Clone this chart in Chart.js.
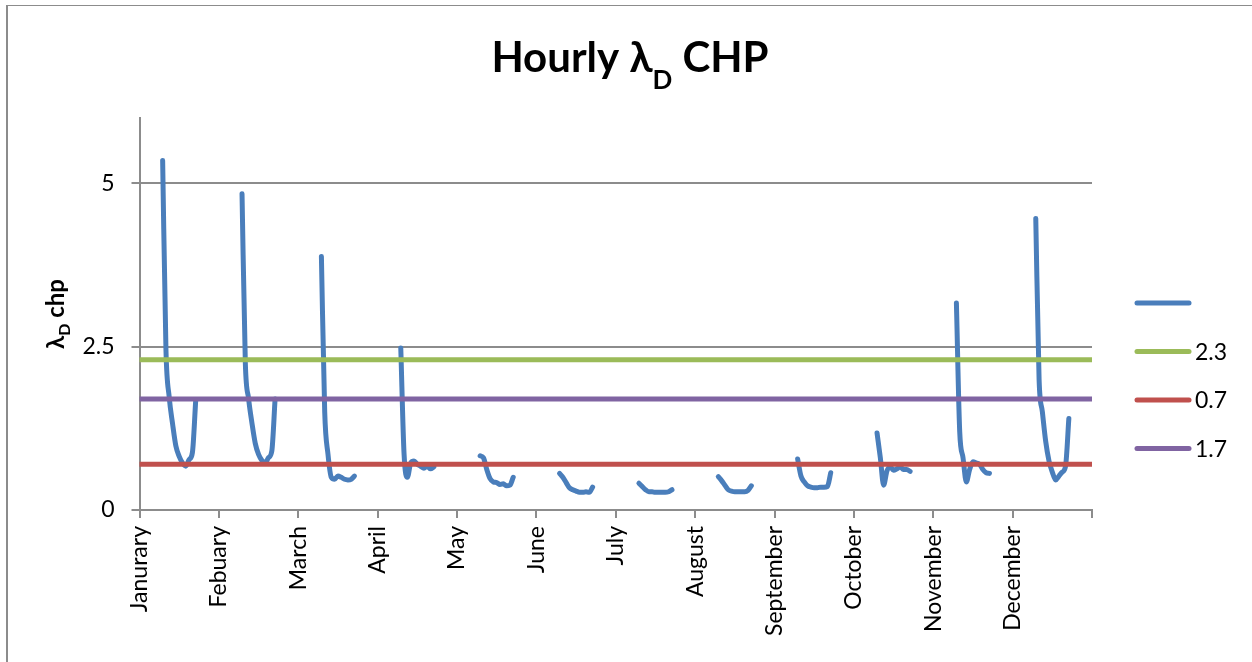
<!DOCTYPE html>
<html>
<head>
<meta charset="utf-8">
<script src="https://cdn.jsdelivr.net/npm/chart.js@4/dist/chart.umd.min.js"></script>
<style>
  html, body { margin: 0; padding: 0; background: #fff; }
  #wrap { position: relative; width: 1252px; height: 662px; overflow: hidden; }
  #frame { position: absolute; left: 6px; top: 5px; width: 1300px; height: 700px;
           border-left: 2px solid #8c8c8c; border-top: 1px solid #8c8c8c; }
  canvas { position: absolute; left: 0; top: 0; }
</style>
</head>
<body>
<div id="wrap">
  <div id="frame"></div>
  <canvas id="chart" width="1252" height="662"></canvas>
</div>
<script>
// month labels (spelling as in the original)
const months = ['Janurary', 'Febuary', 'March', 'April', 'May', 'June',
  'July', 'August', 'September', 'October', 'November', 'December'];
const hoursPerMonth = 24;
const hours = [7, 8, 9, 10, 11, 12, 13, 14, 15, 16, 17];

// hourly lambda_D values of the representative day, per month
const jan = [5.35, 2.45, 1.72, 1.32, 0.98, 0.82, 0.72, 0.67, 0.77, 0.88, 1.68];
const feb = [4.84, 2.25, 1.70, 1.33, 1.02, 0.85, 0.76, 0.72, 0.80, 0.90, 1.70];
const mar = [3.88, 1.50, 0.85, 0.50, 0.47, 0.52, 0.50, 0.47, 0.46, 0.47, 0.52];
const apr = [2.48, 0.85, 0.50, 0.72, 0.75, 0.70, 0.67, 0.64, 0.67, 0.63, 0.66];
const may = [0.83, 0.80, 0.62, 0.48, 0.43, 0.42, 0.39, 0.40, 0.37, 0.38, 0.50];
const jun = [0.56, 0.50, 0.42, 0.34, 0.31, 0.29, 0.27, 0.27, 0.28, 0.27, 0.35];
const jul = [0.41, 0.36, 0.31, 0.28, 0.28, 0.27, 0.27, 0.27, 0.27, 0.28, 0.31];
const aug = [0.51, 0.45, 0.38, 0.31, 0.29, 0.28, 0.28, 0.28, 0.28, 0.30, 0.37];
const sep = [0.78, 0.52, 0.43, 0.37, 0.35, 0.34, 0.34, 0.35, 0.35, 0.36, 0.57];
const oct = [1.18, 0.80, 0.38, 0.60, 0.66, 0.61, 0.63, 0.66, 0.62, 0.62, 0.59];
const nov = [3.17, 1.20, 0.80, 0.43, 0.62, 0.74, 0.72, 0.70, 0.62, 0.57, 0.56];
const dec = [4.46, 2.00, 1.50, 1.05, 0.75, 0.58, 0.46, 0.52, 0.58, 0.67, 1.40];
const monthly = [jan, feb, mar, apr, may, jun, jul, aug, sep, oct, nov, dec];

// reference levels
const levels = [2.3, 0.7, 1.7];
const levelColors = ['#9bbb59', '#c0504d', '#8064a2'];

const yTicks = [0, 2.5, 5];

const FONT = 'Lato, "Open Sans", sans-serif';

// blue series: one short curve per month, gaps in between
const hourly = [];
monthly.forEach((vals, m) => {
  vals.forEach((v, i) => hourly.push({ x: m * hoursPerMonth + hours[i], y: v }));
  hourly.push({ x: m * hoursPerMonth + hours[hours.length - 1] + 1, y: null });
});

const xMax = months.length * hoursPerMonth;

const datasets = [{
  label: '',
  data: hourly,
  borderColor: '#4a7ebb',
  borderWidth: 5,
  pointRadius: 0,
  cubicInterpolationMode: 'monotone',
  spanGaps: false,
  borderCapStyle: 'round',
  borderJoinStyle: 'round',
  order: 1
}];
levels.forEach((lv, i) => {
  datasets.push({
    label: String(lv),
    data: [{ x: 0, y: lv }, { x: xMax, y: lv }],
    borderColor: levelColors[i],
    borderWidth: 5,
    pointRadius: 0,
    borderCapStyle: 'round',
    order: 0
  });
});

// title, y-axis title (with subscripts) and legend
const decor = {
  id: 'decor',
  afterDraw(chart) {
    const ctx = chart.ctx;
    const area = chart.chartArea;
    ctx.save();
    ctx.fillStyle = '#000';
    ctx.textBaseline = 'alphabetic';

    // title
    const big = 'bold 42px ' + FONT, small = 'bold 26px ' + FONT;
    const parts = [['Hourly λ', big, 0], ['D', small, 17], [' CHP', big, 0]];
    let w = 0;
    parts.forEach(p => { ctx.font = p[1]; w += ctx.measureText(p[0]).width; });
    let x = 630 - w / 2;
    ctx.textAlign = 'left';
    parts.forEach(p => { ctx.font = p[1]; ctx.fillText(p[0], x, 72 + p[2]); x += ctx.measureText(p[0]).width; });

    // y axis title
    const yb = 'bold 24px ' + FONT, ys = 'bold 16px ' + FONT;
    const yparts = [['λ', yb, 0], ['D', ys, 6], [' chp', yb, 0]];
    let yw = 0;
    yparts.forEach(p => { ctx.font = p[1]; yw += ctx.measureText(p[0]).width; });
    ctx.translate(64, (area.top + area.bottom) / 2);
    ctx.rotate(-Math.PI / 2);
    let tx = -yw / 2;
    yparts.forEach(p => { ctx.font = p[1]; ctx.fillText(p[0], tx, p[2]); tx += ctx.measureText(p[0]).width; });
    ctx.setTransform(1, 0, 0, 1, 0, 0);

    // legend
    ctx.font = '23px ' + FONT;
    ctx.textBaseline = 'middle';
    chart.data.datasets.forEach((ds, i) => {
      const ly = 303 + i * 48.5;
      ctx.strokeStyle = ds.borderColor;
      ctx.lineWidth = 5;
      ctx.lineCap = 'round';
      ctx.beginPath();
      ctx.moveTo(1137, ly);
      ctx.lineTo(1189, ly);
      ctx.stroke();
      ctx.fillText(ds.label, 1195, ly + 1);
    });
    ctx.restore();
  }
};

new Chart(document.getElementById('chart'), {
  type: 'line',
  data: { datasets },
  options: {
    responsive: false,
    animation: false,
    layout: { padding: { top: 118, right: 160, left: 0, bottom: 0 } },
    plugins: { legend: { display: false }, title: { display: false }, tooltip: { enabled: false } },
    scales: {
      x: {
        type: 'linear',
        min: 0,
        max: xMax,
        afterFit: s => { s.height = 152; },
        afterBuildTicks: s => { s.ticks = months.map((m, i) => ({ value: i * hoursPerMonth })).concat([{ value: xMax }]); },
        ticks: {
          autoSkip: false,
          minRotation: 90,
          maxRotation: 90,
          padding: 8,
          color: '#000',
          font: { family: FONT, size: 23 },
          callback: v => months[v / hoursPerMonth] || ''
        },
        grid: { drawOnChartArea: false, tickLength: 8, color: '#8c8c8c', lineWidth: 2 },
        border: { color: '#8c8c8c', width: 2 }
      },
      y: {
        min: 0,
        max: 6,
        afterFit: s => { s.width = 139.5; },
        afterBuildTicks: s => { s.ticks = yTicks.map(v => ({ value: v })); },
        ticks: {
          padding: 17,
          color: '#000',
          font: { family: FONT, size: 23 }
        },
        grid: { color: '#8c8c8c', lineWidth: 2, tickLength: 8 },
        border: { color: '#8c8c8c', width: 2 }
      }
    }
  },
  plugins: [decor]
});
</script>
</body>
</html>
